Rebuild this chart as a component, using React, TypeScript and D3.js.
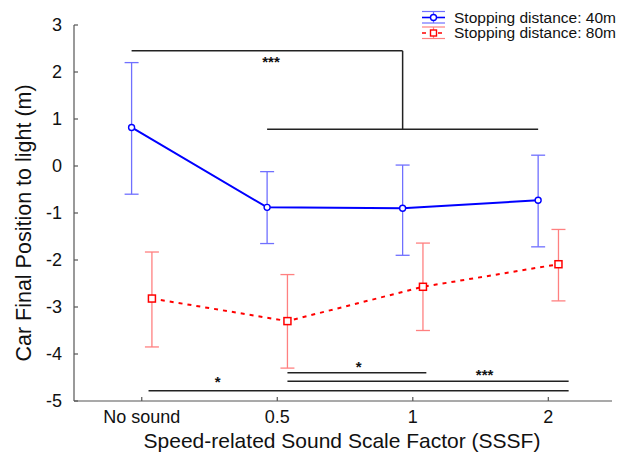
import React from "react";
import * as d3 from "d3";

const categories = ["No sound", "0.5", "1", "2"];
const yTicks = [3, 2, 1, 0, -1, -2, -3, -4, -5];
const blueMean = [0.82, -0.88, -0.9, -0.73];
const blueUpper = [2.2, -0.12, 0.02, 0.23];
const blueLower = [-0.6, -1.65, -1.9, -1.72];
const redMean = [-2.82, -3.3, -2.57, -2.09];
const redUpper = [-1.83, -2.31, -1.64, -1.35];
const redLower = [-3.85, -4.3, -3.5, -2.87];
const legendLabels = ["Stopping distance: 40m", "Stopping distance: 80m"];

// significance brackets in data units
const sigBottom = [
  { x1: 1.075, x2: 2.1, y: -4.4, label: "*", lx: 1.6, ly: -4.25 },
  { x1: 1.075, x2: 3.15, y: -4.58, label: "***", lx: 2.53, ly: -4.43 },
  { x1: 0.05, x2: 3.15, y: -4.78, label: "*", lx: 0.56, ly: -4.58 },
];

export default function App() {
  const W = 621, H = 454;
  const x = d3.scaleLinear().domain([-0.5, 3.47]).range([74, 612]);
  const y = d3.scaleLinear().domain([-5, 3]).range([401, 25]);
  const off = 0.075;
  const cap = 7;
  const font = "'Liberation Sans', Arial, sans-serif";

  const blueLine = d3.line<number>().x((_, i) => x(i - off)).y((d) => y(d));
  const redLine = d3.line<number>().x((_, i) => x(i + off)).y((d) => y(d));

  const errBars = (mean: number[], up: number[], lo: number[], dx: number, color: string, key: string) =>
    mean.map((_, i) => {
      const cx = x(i + dx);
      return (
        <g key={key + i} stroke={color} strokeWidth={1.3} fill="none">
          <line x1={cx} x2={cx} y1={y(up[i])} y2={y(lo[i])} />
          <line x1={cx - cap} x2={cx + cap} y1={y(up[i])} y2={y(up[i])} />
          <line x1={cx - cap} x2={cx + cap} y1={y(lo[i])} y2={y(lo[i])} />
        </g>
      );
    });

  const topY = 2.45;
  const midY = 0.78;
  const topX1 = x(0 - off);
  const midX1 = x(1 - off);
  const midX2 = x(3 - off);
  const topX2 = (midX1 + midX2) / 2;

  return (
    <svg width={W} height={H} style={{ position: "absolute", left: 0, top: 0 }} fontFamily={font}>
      <rect width={W} height={H} fill="white" />
      <g stroke="#555" strokeWidth={1.2}>
        <line x1={74} x2={74} y1={y(3)} y2={y(-5)} />
        <line x1={74} x2={612} y1={y(-5)} y2={y(-5)} />
        {yTicks.map((t) => (
          <line key={t} x1={74} x2={78} y1={y(t)} y2={y(t)} />
        ))}
        {categories.map((c, i) => (
          <line key={c} x1={x(i)} x2={x(i)} y1={y(-5)} y2={y(-5) - 4} />
        ))}
      </g>
      {yTicks.map((t) => (
        <text key={t} x={62} y={y(t) + 6} textAnchor="end" fontSize={18} fill="#111">
          {t}
        </text>
      ))}
      {categories.map((c, i) => (
        <text key={c} x={x(i)} y={423} textAnchor="middle" fontSize={18} fill="#111">
          {c}
        </text>
      ))}
      <text x={342} y={448} textAnchor="middle" fontSize={21} fill="#111">
        Speed-related Sound Scale Factor (SSSF)
      </text>
      <text transform={`translate(31,223) rotate(-90)`} textAnchor="middle" fontSize={21.5} fill="#111">
        Car Final Position to light (m)
      </text>

      {errBars(blueMean, blueUpper, blueLower, -off, "#7070ff", "b")}
      {errBars(redMean, redUpper, redLower, off, "#ff8080", "r")}

      <path d={blueLine(blueMean) || ""} fill="none" stroke="#0000ff" strokeWidth={2} />
      <path d={redLine(redMean) || ""} fill="none" stroke="#ff0000" strokeWidth={2} strokeDasharray="4,5" />
      {blueMean.map((d, i) => (
        <circle key={"bc" + i} cx={x(i - off)} cy={y(d)} r={3} fill="white" stroke="#0000ff" strokeWidth={1.4} />
      ))}
      {redMean.map((d, i) => (
        <rect key={"rs" + i} x={x(i + off) - 3.5} y={y(d) - 3.5} width={7} height={7} fill="white" stroke="#ff0000" strokeWidth={1.5} />
      ))}

      <g stroke="#222" strokeWidth={1.5} fill="none">
        <line x1={topX1} x2={topX2} y1={y(topY)} y2={y(topY)} />
        <line x1={topX2} x2={topX2} y1={y(topY)} y2={y(midY)} />
        <line x1={midX1} x2={midX2} y1={y(midY)} y2={y(midY)} />
        {sigBottom.map((s, i) => (
          <line key={i} x1={x(s.x1)} x2={x(s.x2)} y1={y(s.y)} y2={y(s.y)} />
        ))}
      </g>
      <text x={271} y={67} textAnchor="middle" fontSize={15} fontWeight="bold" fill="#111">
        ***
      </text>
      {sigBottom.map((s, i) => (
        <text key={i} x={x(s.lx)} y={y(s.ly) + 6} textAnchor="middle" fontSize={15} fontWeight="bold" fill="#111">
          {s.label}
        </text>
      ))}

      {legendLabels.map((l, i) => {
        const ly = 17.5 + i * 15.5;
        const color = i === 0 ? "#0000ff" : "#ff0000";
        const ecol = i === 0 ? "#7070ff" : "#ff8080";
        return (
          <g key={l}>
            <line x1={422} x2={445} y1={ly - 6} y2={ly - 6} stroke={ecol} strokeWidth={1.2} />
            <line x1={422} x2={445} y1={ly + 5.5} y2={ly + 5.5} stroke={ecol} strokeWidth={1.2} />
            <line x1={433.5} x2={433.5} y1={ly - 6} y2={ly + 5.5} stroke={ecol} strokeWidth={1.2} />
            <line x1={422} x2={445} y1={ly} y2={ly} stroke={color} strokeWidth={1.6} strokeDasharray={i === 1 ? "4,4" : undefined} />
            {i === 0 ? (
              <circle cx={433.5} cy={ly} r={3} fill="white" stroke={color} strokeWidth={1.4} />
            ) : (
              <rect x={430.5} y={ly - 3} width={6} height={6} fill="white" stroke={color} strokeWidth={1.4} />
            )}
            <text x={454} y={ly + 5} fontSize={15.5} fill="#111">
              {l}
            </text>
          </g>
        );
      })}
    </svg>
  );
}
